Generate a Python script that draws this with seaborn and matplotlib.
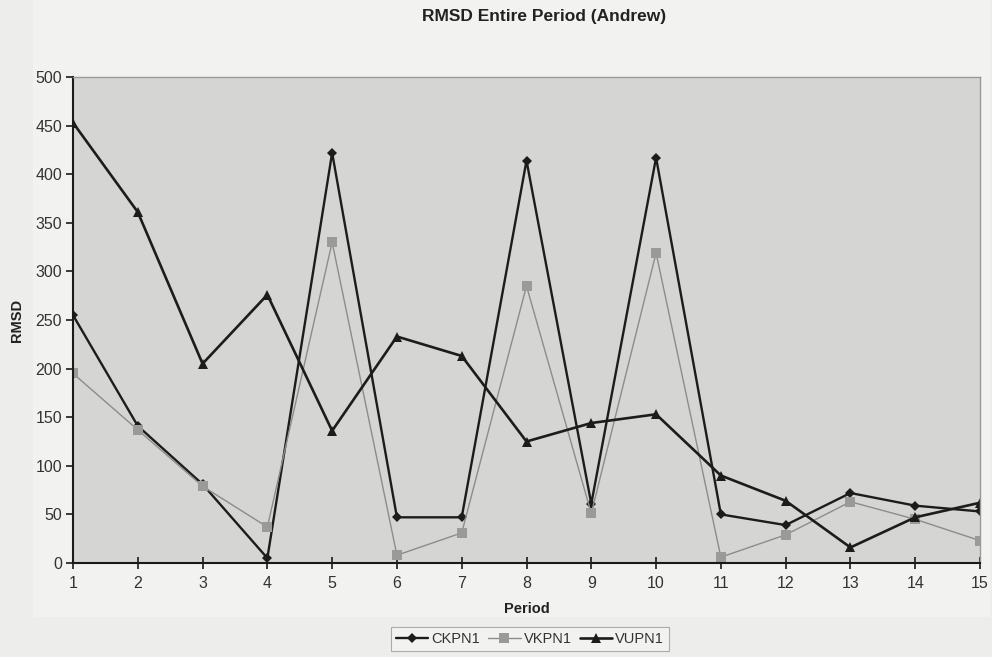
import matplotlib
matplotlib.use("Agg")
import matplotlib.pyplot as plt
from matplotlib.patches import Rectangle
import seaborn as sns
import pandas as pd

# RMSD per period for each model
periods = list(range(1, 16))
ckpn1 = [255, 141, 81, 5, 422, 47, 47, 414, 61, 417, 50, 39, 72, 59, 53]
vkpn1 = [195, 137, 79, 37, 330, 8, 31, 285, 51, 319, 6, 29, 63, 45, 23]
vupn1 = [453, 361, 205, 276, 136, 233, 213, 125, 144, 153, 90, 64, 16, 47, 62]
series_names = ["CKPN1", "VKPN1", "VUPN1"]

sns.set_theme(style="white")
plt.rcParams["font.family"] = ["Liberation Sans", "DejaVu Sans"]

fig = plt.figure(figsize=(9.92, 6.57), dpi=100, facecolor="#ededeb")
# slightly lighter chart area behind the plot
fig.patches.append(Rectangle((33 / 992, 1 - 617 / 657), (990 - 33) / 992, 617 / 657,
                             transform=fig.transFigure, facecolor="#f2f2f0",
                             edgecolor="none", zorder=-5))

ax = fig.add_axes([73 / 992, 94 / 657, 907 / 992, 486 / 657])
ax.set_zorder(2)
ax.set_facecolor("#d5d5d3")

styles = {
    "CKPN1": dict(color="#1c1c1c", marker="D", markersize=5.5, linewidth=1.7,
                  markeredgewidth=0),
    "VKPN1": dict(color="#8c8c8c", marker="s", markersize=7, linewidth=1.0,
                  markeredgewidth=0, markerfacecolor="#9a9a9a"),
    "VUPN1": dict(color="#1c1c1c", marker="^", markersize=6.5, linewidth=1.9,
                  markeredgewidth=0),
}

for name, vals in zip(series_names, [ckpn1, vkpn1, vupn1]):
    df = pd.DataFrame({"Period": periods, "RMSD": vals})
    sns.lineplot(data=df, x="Period", y="RMSD", ax=ax, label=name, **styles[name])

ax.set_xlim(1, 15)
ax.set_ylim(0, 500)
ax.set_xticks(periods)
ax.set_yticks(range(0, 501, 50))

for side in ["left", "bottom"]:
    ax.spines[side].set_color("#1a1a1a")
    ax.spines[side].set_linewidth(1.5)
for side in ["top", "right"]:
    ax.spines[side].set_color("#9a9a98")
    ax.spines[side].set_linewidth(1.0)

ax.tick_params(axis="both", direction="inout", length=8, width=1.2,
               color="#1a1a1a", labelsize=11.5, labelcolor="#333333",
               bottom=True, left=True)
ax.tick_params(axis="x", pad=5)
ax.tick_params(axis="y", direction="out", length=5, pad=3)

ax.set_xlabel("Period", fontsize=10.5, fontweight="bold", color="#222222", labelpad=8)
ax.set_ylabel("RMSD", fontsize=10.5, fontweight="bold", color="#222222", labelpad=8)

fig.text(544 / 992, 1 - 16 / 657, "RMSD Entire Period (Andrew)", ha="center",
         va="center", fontsize=12.5, fontweight="bold", color="#222222")

leg = ax.legend(loc="center", bbox_to_anchor=(530 / 992, 1 - 639 / 657),
                bbox_transform=fig.transFigure, ncol=3, frameon=True,
                fontsize=10.5, handlelength=2.2, handletextpad=0.2,
                columnspacing=0.6, borderpad=0.35, fancybox=False)
leg.get_frame().set_facecolor("#f4f4f2")
leg.get_frame().set_edgecolor("#9a9a98")
leg.get_frame().set_linewidth(0.8)
for t in leg.get_texts():
    t.set_color("#333333")

fig.savefig("out.png", dpi=100, facecolor=fig.get_facecolor())
